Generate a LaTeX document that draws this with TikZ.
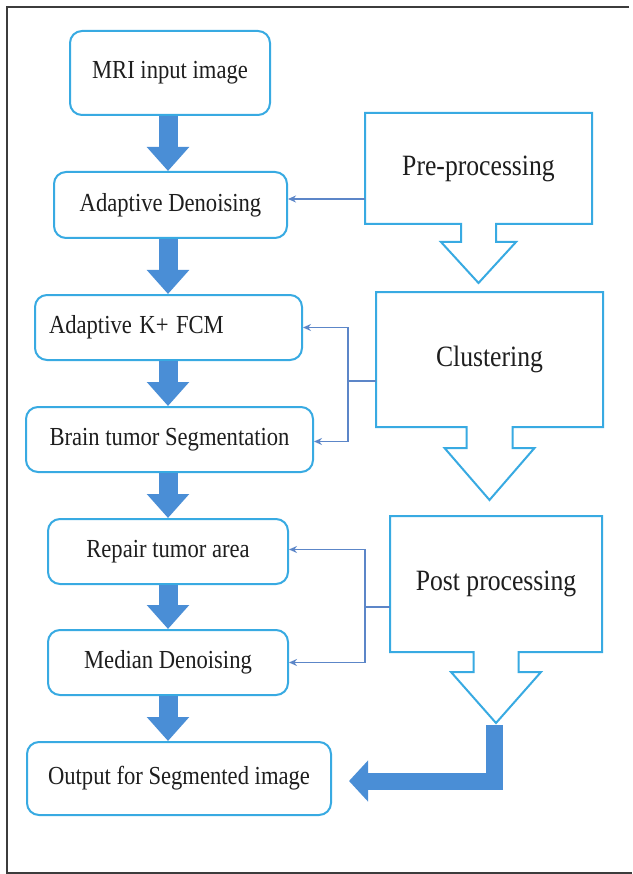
\documentclass[tikz,border=0pt]{standalone}
\usepackage{fontspec}
\usepackage{graphicx}
\setmainfont{Liberation Serif}
\usetikzlibrary{arrows.meta,calc}
\definecolor{boxblue}{RGB}{56,170,226}
\definecolor{arrblue}{RGB}{74,142,214}
\definecolor{fbblue}{RGB}{92,134,200}
\definecolor{framegray}{RGB}{60,60,60}
\definecolor{txt}{RGB}{30,30,30}
\newcommand\narrowtxt[1]{\scalebox{0.87}[1]{#1}}
\newcommand\stageoutline[5]{%
 \draw[stageline] ($(#1.south)+(-#2,0)$) -- (#1.south west) -- (#1.north west) -- (#1.north east) -- (#1.south east) -- ($(#1.south)+(#2,0)$) -- ($(#1.south)+(#2,#4)$) -- ($(#1.south)+(#3,#4)$) -- ($(#1.south)+(0,#4+#5)$) -- ($(#1.south)+(-#3,#4)$) -- ($(#1.south)+(-#2,#4)$) -- cycle;}
\begin{document}
\begin{tikzpicture}[x=1pt,y=-1pt,
 procbox/.style={draw=boxblue, line width=2pt, rounded corners=12pt, fill=white, inner sep=0pt, text=txt, font=\fontsize{26}{30}\selectfont},
 stagebox/.style={inner sep=0pt, outer sep=0pt, text=txt, font=\fontsize{29.5}{34}\selectfont},
 stageline/.style={draw=boxblue, line width=2pt, line join=miter},
 bigarrow/.style={draw=arrblue, line width=19pt, line join=miter, -{Triangle[length=24pt,width=41pt]}},
 fbline/.style={draw=fbblue, line width=1.5pt},
 fbarrow/.style={fbline, -{Stealth[length=8pt,width=7pt]}},
]
\useasboundingbox (0,0) rectangle (632,874);
\fill[white] (0,0) rectangle (632,874);
\draw[framegray, line width=2.5pt] (629,7) -- (7,7) -- (7,873) -- (632,873);

% process boxes
\node[procbox, minimum width=200pt, minimum height=84pt] (mri) at (170,73) {\narrowtxt{MRI input image}};
\node[procbox, minimum width=233pt, minimum height=66pt] (ad) at (170.5,205) {\narrowtxt{Adaptive Denoising}};
\node[procbox, minimum width=267pt, minimum height=65pt, text width=239pt, inner xsep=14pt, align=left] (kfcm) at (168.5,327.5) {\narrowtxt{Adaptive K+ FCM}};
\node[procbox, minimum width=287pt, minimum height=65pt] (bts) at (169.5,439.5) {\narrowtxt{Brain tumor Segmentation}};
\node[procbox, minimum width=240pt, minimum height=65pt] (rep) at (168,551.5) {\narrowtxt{Repair tumor area}};
\node[procbox, minimum width=240pt, minimum height=65pt] (med) at (168,662.5) {\narrowtxt{Median Denoising}};
\node[procbox, minimum width=304pt, minimum height=73pt] (out) at (179,778.5) {\narrowtxt{Output for Segmented image}};

% stage boxes
\node[stagebox, minimum width=227pt, minimum height=111pt] (pre) at (478.5,168.5) {\narrowtxt{Pre-processing}};
\node[stagebox, minimum width=227pt, minimum height=135pt] (clu) at (489.5,359.5) {\narrowtxt{Clustering}};
\node[stagebox, minimum width=212pt, minimum height=136pt] (post) at (496,584) {\narrowtxt{Post processing}};
\stageoutline{pre}{17.5}{37.5}{18}{41}
\stageoutline{clu}{23}{45}{21}{52}
\stageoutline{post}{22.5}{45}{20}{51}

% main flow arrows
\coordinate (ax) at (168,0);
\draw[bigarrow] (mri.south -| ax) -- (ad.north -| ax);
\draw[bigarrow] (ad.south -| ax) -- (kfcm.north -| ax);
\draw[bigarrow] (kfcm.south -| ax) -- (bts.north -| ax);
\draw[bigarrow] (bts.south -| ax) -- (rep.north -| ax);
\draw[bigarrow] (rep.south -| ax) -- (med.north -| ax);
\draw[bigarrow] (med.south -| ax) -- (out.north -| ax);

% post processing to output
\coordinate (Lstart) at ($(post.south)+(-2,73)$);
\draw[bigarrow, line width=17pt, -{Triangle[length=19pt,width=40pt]}] (Lstart) |- ($(out.east)+(17,2.5)$);

% feedback connectors
\draw[fbarrow] ($(pre.west |- ad.east)+(0,-6)$) -- ($(ad.east)+(0,-6)$);
\coordinate (cj) at (348,381);
\draw[fbline] ($(clu.west)+(0,21.5)$) -- (cj);
\draw[fbarrow] (cj) |- (kfcm.east);
\draw[fbarrow] (cj) |- ($(bts.east)+(0,2)$);
\coordinate (pj) at (365,607);
\draw[fbline] ($(post.west)+(0,23)$) -- (pj);
\draw[fbarrow] (pj) |- ($(rep.east)+(0,-2)$);
\draw[fbarrow] (pj) |- (med.east);
\end{tikzpicture}
\end{document}
